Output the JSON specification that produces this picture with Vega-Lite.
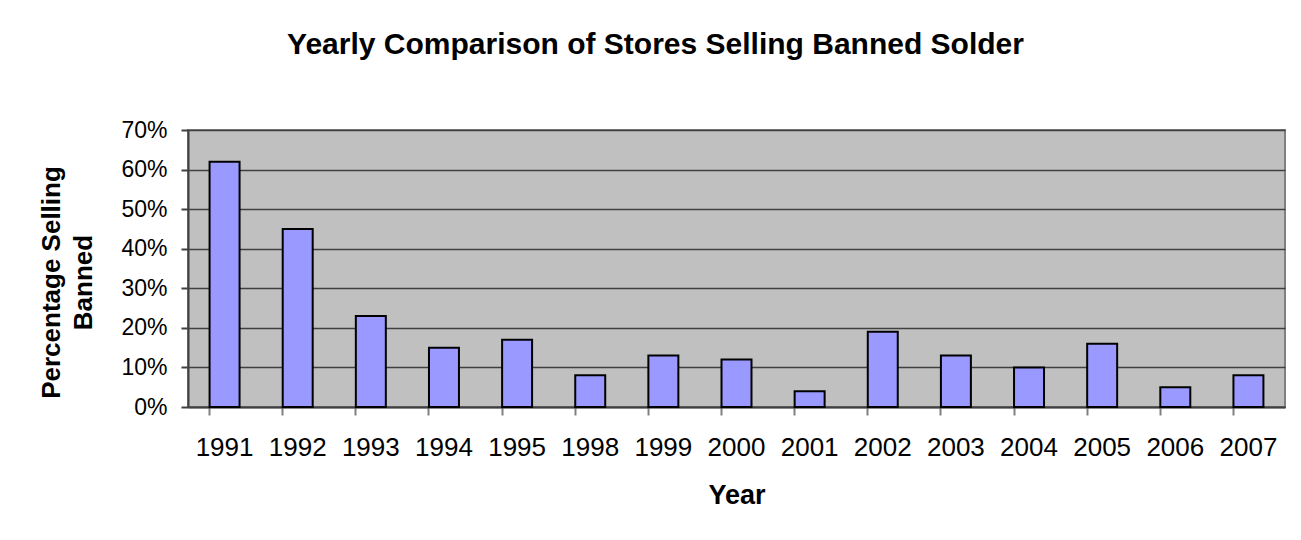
{
  "$schema": "https://vega.github.io/schema/vega-lite/v6.json",
  "autosize": {"type": "none"},
  "width": 1097,
  "height": 277,
  "padding": {"left": 188, "top": 130, "right": 16, "bottom": 133},
  "background": "white",
  "title": {
    "text": "Yearly Comparison of Stores Selling Banned Solder",
    "font": "Liberation Sans",
    "fontSize": 30,
    "fontWeight": "bold",
    "color": "black",
    "anchor": "middle",
    "frame": "group",
    "dx": -81,
    "offset": 59
  },
  "data": {
    "values": [
      {"Year": "1991", "Pct": 0.62},
      {"Year": "1992", "Pct": 0.45},
      {"Year": "1993", "Pct": 0.23},
      {"Year": "1994", "Pct": 0.15},
      {"Year": "1995", "Pct": 0.17},
      {"Year": "1998", "Pct": 0.08},
      {"Year": "1999", "Pct": 0.13},
      {"Year": "2000", "Pct": 0.12},
      {"Year": "2001", "Pct": 0.04},
      {"Year": "2002", "Pct": 0.19},
      {"Year": "2003", "Pct": 0.13},
      {"Year": "2004", "Pct": 0.10},
      {"Year": "2005", "Pct": 0.16},
      {"Year": "2006", "Pct": 0.05},
      {"Year": "2007", "Pct": 0.08}
    ]
  },
  "mark": {"type": "bar", "fill": "#9999FF", "stroke": "black", "strokeWidth": 2},
  "encoding": {
    "x": {
      "field": "Year",
      "type": "nominal",
      "sort": null,
      "scale": {"paddingInner": 0.59, "paddingOuter": 0.295},
      "axis": {
        "title": "Year",
        "titleFont": "Liberation Sans",
        "titleFontSize": 27,
        "titleFontWeight": "bold",
        "titleColor": "black",
        "titlePadding": 22,
        "labelFont": "Liberation Sans",
        "labelFontSize": 26,
        "labelColor": "black",
        "labelAngle": 0,
        "labelPadding": 19,
        "bandPosition": 0,
        "tickSize": 8,
        "tickColor": "#808080",
        "tickWidth": 2,
        "domainColor": "#404040",
        "domainWidth": 2,
        "grid": false
      }
    },
    "y": {
      "field": "Pct",
      "type": "quantitative",
      "scale": {"domain": [0, 0.7], "nice": false},
      "axis": {
        "title": ["Percentage Selling", "Banned"],
        "titleFont": "Liberation Sans",
        "titleFontSize": 26,
        "titleFontWeight": "bold",
        "titleColor": "black",
        "titleLineHeight": 32,
        "titlePadding": 24,
        "titleY": 152,
        "labelFont": "Liberation Sans",
        "labelFontSize": 23,
        "labelColor": "black",
        "labelPadding": 14,
        "format": ".0%",
        "values": [0, 0.1, 0.2, 0.3, 0.4, 0.5, 0.6, 0.7],
        "tickSize": 7,
        "tickColor": "#404040",
        "tickWidth": 2,
        "domainColor": "#404040",
        "domainWidth": 2,
        "grid": true,
        "gridColor": "#404040",
        "gridWidth": 1.5
      }
    }
  },
  "config": {
    "view": {"fill": "#C0C0C0", "stroke": "#808080", "strokeWidth": 2}
  }
}
